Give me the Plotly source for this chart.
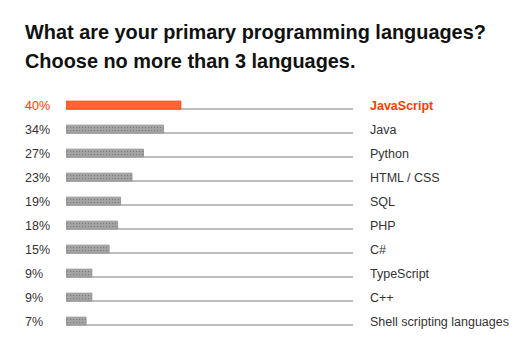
import plotly.graph_objects as go

languages = ["JavaScript", "Java", "Python", "HTML / CSS", "SQL", "PHP", "C#",
             "TypeScript", "C++", "Shell scripting languages"]
shares = [40, 34, 27, 23, 19, 18, 15, 9, 9, 7]
highlight = "JavaScript"

W, H = 523, 344
L, R, T, B = 66, 170, 93, 11
pw, ph = W - L - R, H - T - B

def px_x(p):
    return (p - L) / pw

def px_y(p):
    return (H - B - p) / ph

pos = list(range(len(languages)))
accent = "#ff3c00"

fig = go.Figure()
# track lines
fig.add_trace(go.Bar(
    x=[100] * len(languages), y=pos, orientation="h",
    width=0.045, offset=0.13,
    marker=dict(color="#bdbdbd", line=dict(width=0)),
    hoverinfo="skip", showlegend=False,
))
fills = ["#ff6633" if l == highlight else "#a3a3a3" for l in languages]
edges = ["#ff4411" if l == highlight else "#999999" for l in languages]
patterns = ["" if l == highlight else "." for l in languages]
fig.add_trace(go.Bar(
    x=shares, y=pos, orientation="h",
    width=0.33, offset=-0.16,
    marker=dict(color=fills, line=dict(color=edges, width=1),
                pattern=dict(shape=patterns, fgcolor="#d4d4d4", bgcolor="#a6a6a6",
                             size=3, solidity=0.12)),
    hoverinfo="skip", showlegend=False,
))

for i, (lang, v) in enumerate(zip(languages, shares)):
    hi = lang == highlight
    fig.add_annotation(x=px_x(23), xref="paper", y=i + 0.03, yref="y",
                       text=f"{v}%", showarrow=False, xanchor="left", yanchor="middle",
                       font=dict(family="Liberation Sans, Arial", size=12.5,
                                 color=accent if hi else "#333333"))
    fig.add_annotation(x=px_x(368), xref="paper", y=i + 0.03, yref="y",
                       text=f"<b>{lang}</b>" if hi else lang, showarrow=False,
                       xanchor="left", yanchor="middle",
                       font=dict(family="Liberation Sans, Arial", size=12.5,
                                 color=accent if hi else "#333333"))

title_lines = ["What are your primary programming languages?",
               "Choose no more than 3 languages."]
for t, py in zip(title_lines, [32.5, 61.5]):
    fig.add_annotation(x=px_x(23), xref="paper", y=px_y(py), yref="paper",
                       text=f"<b>{t}</b>", showarrow=False, xanchor="left", yanchor="middle",
                       font=dict(family="Liberation Sans, Arial", size=19.9, color="#111111"))

fig.update_layout(
    width=W, height=H, margin=dict(l=L, r=R, t=T, b=B),
    paper_bgcolor="white", plot_bgcolor="white", barmode="overlay",
    xaxis=dict(range=[0, 100], visible=False, fixedrange=True),
    yaxis=dict(range=[len(languages) - 0.5, -0.5], visible=False, fixedrange=True),
)
fig.write_html("out.html")
